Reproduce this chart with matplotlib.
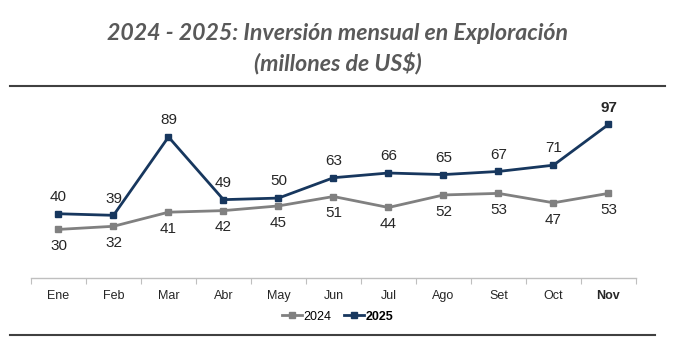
import matplotlib
matplotlib.use("Agg")
import matplotlib.pyplot as plt
from matplotlib import font_manager
from matplotlib.lines import Line2D

months = ["Ene", "Feb", "Mar", "Abr", "May", "Jun", "Jul", "Ago", "Set", "Oct", "Nov"]
v2024 = [30, 32, 41, 42, 45, 51, 44, 52, 53, 47, 53]
v2025 = [40, 39, 89, 49, 50, 63, 66, 65, 67, 71, 97]
series_names = ["2024", "2025"]

names = {f.name for f in font_manager.fontManager.ttflist}
narrow = "Liberation Sans Narrow" if "Liberation Sans Narrow" in names else "Liberation Sans"

c24 = "#808080"
c25 = "#17375E"

fig = plt.figure(figsize=(6.75, 3.54), dpi=100)
ax = fig.add_axes([0.0459, 0.2147, 0.8963, 0.5223])

x = list(range(len(months)))
ax.plot(x, v2024, color=c24, lw=2, marker="s", ms=5, label=series_names[0])
ax.plot(x, v2025, color=c25, lw=2, marker="s", ms=5, label=series_names[1])

ax.set_xlim(-0.5, len(months) - 0.5)
ax.set_ylim(-1, 117)

for i, (a, b) in enumerate(zip(v2024, v2025)):
    last = i == len(months) - 1
    ax.annotate(str(b), (i, b), xytext=(0, 7), textcoords="offset points",
                ha="center", va="bottom", fontsize=11, family=narrow,
                color="#262626", fontweight="bold" if last else "normal")
    ax.annotate(str(a), (i, a), xytext=(0, -7), textcoords="offset points",
                ha="center", va="top", fontsize=11, family=narrow, color="#262626")

for s in ["top", "right", "left"]:
    ax.spines[s].set_visible(False)
ax.spines["bottom"].set_color("#BFBFBF")
ax.spines["bottom"].set_linewidth(1)
ax.set_yticks([])
ax.set_xticks([i - 0.5 for i in range(len(months) + 1)], minor=False)
ax.set_xticklabels([])
ax.tick_params(axis="x", length=4, color="#BFBFBF", direction="out")
ax.set_xticks(x, minor=True)
ax.set_xticklabels(months, minor=True)
ax.tick_params(axis="x", which="minor", length=0, pad=9, labelsize=9, labelcolor="#262626")
for lab in ax.get_xticklabels(minor=True):
    lab.set_family(narrow)
    if lab.get_text() == "Nov":
        lab.set_fontweight("bold")

leg = fig.legend(handles=[Line2D([], [], color=c24, lw=2, marker="s", ms=5),
                          Line2D([], [], color=c25, lw=2, marker="s", ms=5)],
                 labels=series_names, loc="center", bbox_to_anchor=(0.5, 0.105),
                 ncol=2, frameon=False, handlelength=1.6,
                 handletextpad=0.1, columnspacing=1.0, prop={"family": narrow, "size": 9})
leg.get_texts()[1].set_fontweight("bold")

fig.text(0.5, 1 - 33 / 354, "2024 - 2025: Inversión mensual en Exploración",
         ha="center", va="center", fontsize=16.7, fontweight="bold", style="italic",
         family="Lato", color="#595959")
fig.text(0.5, 1 - 63 / 354, "(millones de US$)",
         ha="center", va="center", fontsize=16.7, fontweight="bold", style="italic",
         family="Lato", color="#595959")

fig.add_artist(Line2D([10 / 675, 665 / 675], [1 - 86 / 354] * 2, color="#404040", lw=1.5))
fig.add_artist(Line2D([10 / 675, 655 / 675], [1 - 335 / 354] * 2, color="#404040", lw=1.5))

fig.savefig("out.png", dpi=100)
